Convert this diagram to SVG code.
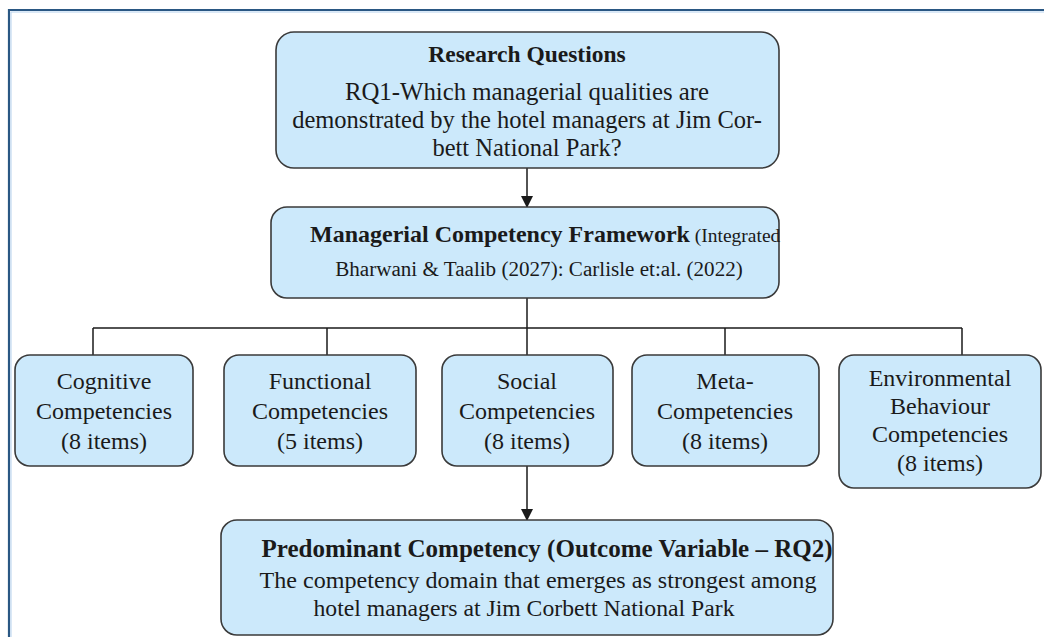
<svg xmlns="http://www.w3.org/2000/svg" width="1044" height="637" viewBox="0 0 1044 637">
<style>
.box{fill:#cce9fb;stroke:#3a3a3a;stroke-width:1.6}
.t{font-family:"Liberation Serif","Times New Roman",serif;fill:#1a1a1a;font-size:24px}
.c{text-anchor:middle}
.b{font-weight:bold}
.ln{stroke:#1a1a1a;stroke-width:1.5;fill:none}
</style>
<defs>
<marker id="ah" markerWidth="12" markerHeight="14" refX="11" refY="6" orient="auto" markerUnits="userSpaceOnUse">
<path d="M0,0 L12,6 L0,12 Z" fill="#1a1a1a"/>
</marker>
</defs>
<rect width="1044" height="637" fill="#ffffff"/>
<g id="frame">
<path d="M9,637 V10 H1044" fill="none" stroke="#2a5783" stroke-width="2.2"/>
<path d="M11,637 V12 H1044" fill="none" stroke="#b5d2ee" stroke-width="1"/>
</g>
<g id="connectors">
<line class="ln" x1="527" y1="168" x2="527" y2="207" marker-end="url(#ah)"/>
<line class="ln" x1="527" y1="298" x2="527" y2="328"/>
<line class="ln" x1="93" y1="328" x2="962" y2="328"/>
<line class="ln" x1="93" y1="328" x2="93" y2="355"/>
<line class="ln" x1="327" y1="328" x2="327" y2="355"/>
<line class="ln" x1="527" y1="328" x2="527" y2="355"/>
<line class="ln" x1="725" y1="328" x2="725" y2="355"/>
<line class="ln" x1="962" y1="328" x2="962" y2="355"/>
<line class="ln" x1="527" y1="466" x2="527" y2="520" marker-end="url(#ah)"/>
</g>
<g id="rq">
<rect class="box" x="276" y="32" width="503" height="136" rx="18"/>
<text class="t c b" x="527" y="62" style="font-size:23.5px">Research Questions</text>
<text class="t c" x="527" y="100" style="font-size:24.8px">RQ1-Which managerial qualities are</text>
<text class="t c" x="527" y="128" style="font-size:24.5px">demonstrated by the hotel managers at Jim Cor-</text>
<text class="t c" x="527" y="156" style="font-size:24.5px">bett National Park?</text>
</g>
<g id="mcf">
<rect class="box" x="271" y="207" width="508" height="91" rx="16"/>
<text class="t" x="310" y="242"><tspan class="b" style="font-size:24px">Managerial Competency Framework</tspan><tspan style="font-size:19.5px"> (Integrated</tspan></text>
<text class="t c" x="539" y="276" style="font-size:21.1px">Bharwani &amp; Taalib (2027): Carlisle et:al. (2022)</text>
</g>
<g id="cognitive">
<rect class="box" x="15" y="355" width="178" height="111" rx="15"/>
<text class="t c" x="104" y="389">Cognitive</text>
<text class="t c" x="104" y="419">Competencies</text>
<text class="t c" x="104" y="449">(8 items)</text>
</g>
<g id="functional">
<rect class="box" x="224" y="355" width="192" height="111" rx="15"/>
<text class="t c" x="320" y="389">Functional</text>
<text class="t c" x="320" y="419">Competencies</text>
<text class="t c" x="320" y="449">(5 items)</text>
</g>
<g id="social">
<rect class="box" x="442" y="355" width="171" height="111" rx="15"/>
<text class="t c" x="527" y="389">Social</text>
<text class="t c" x="527" y="419">Competencies</text>
<text class="t c" x="527" y="449">(8 items)</text>
</g>
<g id="meta">
<rect class="box" x="632" y="355" width="187" height="111" rx="15"/>
<text class="t c" x="725" y="389">Meta-</text>
<text class="t c" x="725" y="419">Competencies</text>
<text class="t c" x="725" y="449">(8 items)</text>
</g>
<g id="environmental">
<rect class="box" x="839" y="355" width="202" height="133" rx="15"/>
<text class="t c" x="940" y="386">Environmental</text>
<text class="t c" x="940" y="414">Behaviour</text>
<text class="t c" x="940" y="442">Competencies</text>
<text class="t c" x="940" y="471">(8 items)</text>
</g>
<g id="outcome">
<rect class="box" x="221" y="520" width="612" height="115" rx="16"/>
<text class="t c b" x="547" y="557" style="font-size:25px">Predominant Competency (Outcome Variable – RQ2)</text>
<text class="t c" x="538" y="588" style="font-size:24.1px">The competency domain that emerges as strongest among</text>
<text class="t c" x="524" y="616" style="font-size:23.7px">hotel managers at Jim Corbett National Park</text>
</g>
</svg>
